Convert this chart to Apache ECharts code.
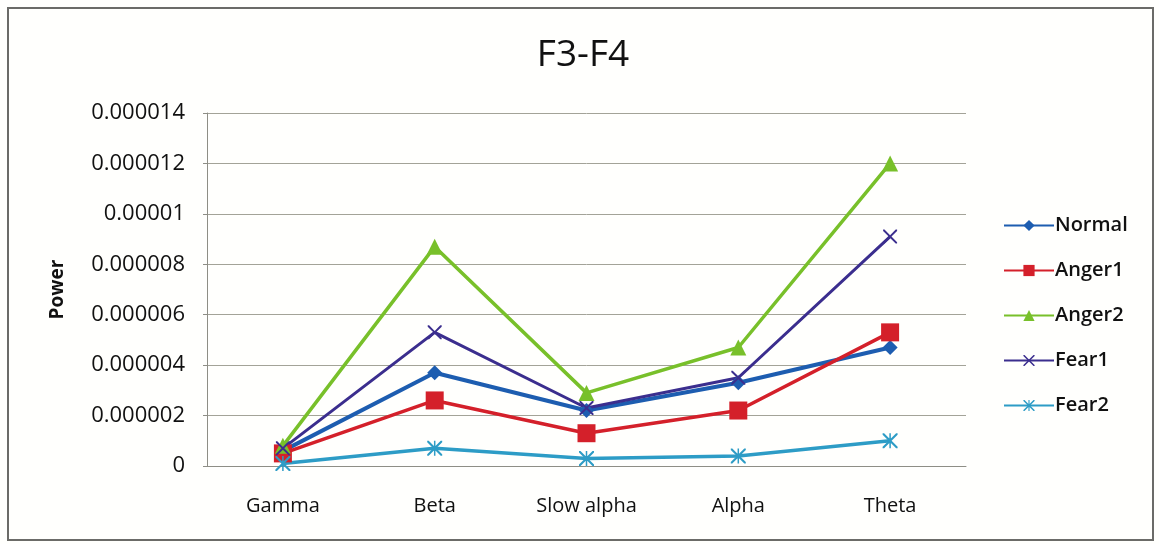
<!DOCTYPE html>
<html>
<head>
<meta charset="utf-8">
<title>F3-F4</title>
<script src="https://cdn.jsdelivr.net/npm/echarts@6/dist/echarts.min.js"></script>
<style>
  html, body { margin: 0; padding: 0; background: #ffffff; }
  #chart { width: 1159px; height: 544px; }
</style>
</head>
<body>
<div id="chart"></div>
<script>
// Band power per EEG band, F3-F4 electrode pair
const categories = ['Gamma', 'Beta', 'Slow alpha', 'Alpha', 'Theta'];
const normal = [0.0000006, 0.0000037, 0.0000022, 0.0000033, 0.0000047];
const anger1 = [0.0000005, 0.0000026, 0.0000013, 0.0000022, 0.0000053];
const anger2 = [0.0000008, 0.0000087, 0.0000029, 0.0000047, 0.0000120];
const fear1  = [0.0000007, 0.0000053, 0.0000023, 0.0000035, 0.0000091];
const fear2  = [0.0000001, 0.0000007, 0.0000003, 0.0000004, 0.0000010];
const yTickLabels = ['0', '0.000002', '0.000004', '0.000006', '0.000008', '0.00001', '0.000012', '0.000014'];
const yInterval = 0.000002;

const FONT = '"Open Sans", "DejaVu Sans", sans-serif';

// thin "x" and asterisk markers
const xMark = 'path://M0,0 L2,0 L10,8 L18,0 L20,0 L20,2 L12,10 L20,18 L20,20 L18,20 L10,12 L2,20 L0,20 L0,18 L8,10 L0,2 Z';
const starMark = 'path://M0,0 L2,0 L10,8 L18,0 L20,0 L20,2 L12,10 L20,18 L20,20 L18,20 L10,12 L2,20 L0,20 L0,18 L8,10 L0,2 Z M9,0 L11,0 L11,20 L9,20 Z';

function line(name, data, color, symbol, size, width) {
  return {
    name, type: 'line', data,
    symbol, symbolSize: size,
    lineStyle: { color, width },
    itemStyle: { color },
    emphasis: { disabled: true }
  };
}

const chart = echarts.init(document.getElementById('chart'), null, { renderer: 'canvas' });
chart.setOption({
  backgroundColor: '#fffffd',
  animation: false,
  title: {
    text: 'F3-F4',
    left: 578, top: 32, textAlign: 'center',
    textStyle: { fontFamily: FONT, fontSize: 37, fontWeight: 'normal', color: '#111' }
  },
  graphic: [{
    type: 'rect', silent: true,
    shape: { x: 8, y: 8, width: 1145, height: 532 },
    style: { fill: 'none', stroke: '#6b6b68', lineWidth: 2 }
  }],
  grid: { left: 207, right: 193, top: 113, bottom: 78 },
  legend: {
    orient: 'vertical',
    left: 998, top: 210,
    itemWidth: 50, itemHeight: 14, itemGap: 24,
    textStyle: { fontFamily: FONT, fontSize: 20, fontWeight: 600, color: '#111', lineHeight: 21, padding: [0, 0, 0, -4] },
    data: ['Normal', 'Anger1', 'Anger2', 'Fear1', 'Fear2']
  },
  xAxis: {
    type: 'category',
    data: categories,
    boundaryGap: true,
    axisLine: { lineStyle: { color: '#8e8e86', width: 1 } },
    axisTick: { show: false },
    axisLabel: { fontFamily: FONT, fontSize: 20, color: '#111', margin: 30 }
  },
  yAxis: {
    type: 'value',
    min: 0, max: 0.000014, interval: yInterval,
    name: 'Power',
    nameLocation: 'middle',
    nameGap: 140,
    nameTextStyle: { fontFamily: FONT, fontSize: 19, fontWeight: 'bold', color: '#111' },
    axisLine: { show: true, lineStyle: { color: '#8e8e86', width: 1 } },
    axisTick: { show: true, length: 4, lineStyle: { color: '#8e8e86' } },
    splitLine: { lineStyle: { color: '#a3a398', width: 1 } },
    axisLabel: {
      fontFamily: FONT, fontSize: 22, color: '#111', margin: 22,
      formatter: v => yTickLabels[Math.round(v / yInterval)]
    }
  },
  series: [
    line('Normal', normal, '#1d5db0', 'diamond', 15, 4),
    line('Anger1', anger1, '#d4202a', 'rect', 18, 3.5),
    line('Anger2', anger2, '#78c02a', 'triangle', 16, 3.5),
    line('Fear1', fear1, '#3b2e8e', xMark, 14, 3),
    line('Fear2', fear2, '#2d9cc6', starMark, 15, 3.5)
  ]
});
</script>
</body>
</html>
